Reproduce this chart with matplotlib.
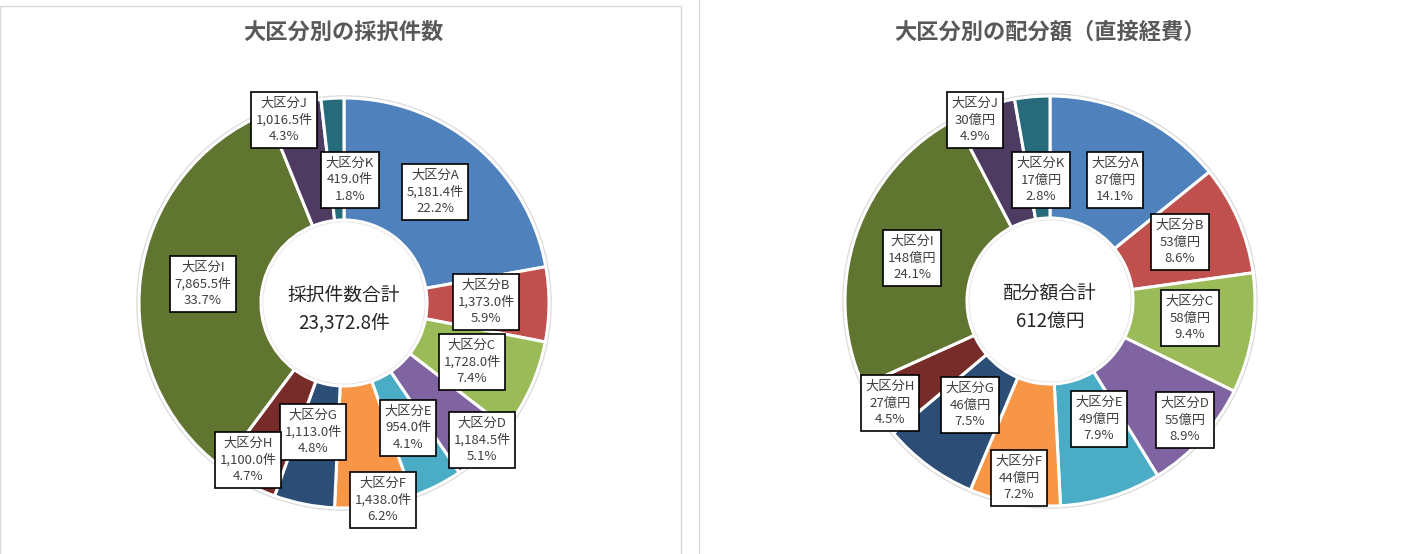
import matplotlib
matplotlib.use("Agg")
import matplotlib.pyplot as plt
from matplotlib.patches import Rectangle, Circle
from matplotlib.lines import Line2D

plt.rcParams['font.family'] = ['Noto Sans CJK JP', 'DejaVu Sans']

# data
categories = ['大区分A', '大区分B', '大区分C', '大区分D', '大区分E', '大区分F',
              '大区分G', '大区分H', '大区分I', '大区分J', '大区分K']
counts = [5181.4, 1373.0, 1728.0, 1184.5, 954.0, 1438.0, 1113.0, 1100.0, 7865.5, 1016.5, 419.0]
count_pcts = [22.2, 5.9, 7.4, 5.1, 4.1, 6.2, 4.8, 4.7, 33.7, 4.3, 1.8]
amounts = [87, 53, 58, 55, 49, 44, 46, 27, 148, 30, 17]
amount_pcts = [14.1, 8.6, 9.4, 8.9, 7.9, 7.2, 7.5, 4.5, 24.1, 4.9, 2.8]

colors = ['#4F81BD', '#C0504D', '#9BBB59', '#8064A2', '#4BACC6', '#F79646',
          '#2C4D75', '#772C2A', '#5F7530', '#4D3B62', '#276A7C']

# label box positions in pixels (x, y from top)
count_label_pos = [(435, 192), (486, 302), (472, 362), (482, 440), (408, 428), (383, 500),
                   (313, 432), (248, 460), (203, 284), (284, 120), (350, 180)]
amount_label_pos = [(1115, 180), (1180, 242), (1190, 318), (1185, 420), (1099, 419), (1019, 478),
                    (970, 405), (890, 403), (912, 258), (975, 120), (1041, 180)]

W, H = 1405, 554
fig = plt.figure(figsize=(W / 100, H / 100), dpi=100)
ax = fig.add_axes([0, 0, 1, 1])

# panel borders
ax.add_patch(Rectangle((0, -5), 681, H - 6 + 5, facecolor='none', edgecolor='#D9D9D9', lw=1))
ax.add_line(Line2D([699, 699], [0, H], color='#D9D9D9', lw=1))


def drawDonut(values, pcts, unit, fmt, label_pos, cx, cy, title, center_title, center_value, title_x):
    radius = 205
    # soft halo around the ring
    ax.add_patch(Circle((cx, H - cy), radius + 1, facecolor='none', edgecolor='#DADADA', lw=2.5))
    ax.add_patch(Circle((cx, H - cy), radius * 0.405 - 1, facecolor='none', edgecolor='#E4E4E4', lw=2))
    ax.pie(values, colors=colors, startangle=90, counterclock=False,
           center=(cx, H - cy), radius=radius,
           wedgeprops=dict(width=radius * 0.595, edgecolor='white', linewidth=2.2))
    for name, v, p, (lx, ly) in zip(categories, values, pcts, label_pos):
        txt = name + '\n' + fmt.format(v) + unit + '\n' + '{:.1f}%'.format(p)
        ax.text(lx, H - ly, txt, ha='center', va='center', fontsize=9.5, color='#404040',
                linespacing=1.35,
                bbox=dict(boxstyle='square,pad=0.35', facecolor='white', edgecolor='black', lw=1.2))
    ax.text(cx, H - cy - 6, center_title + '\n' + center_value, ha='center', va='center',
            fontsize=13.5, color='#262626', linespacing=1.45)
    ax.text(title_x, H - 32, title, ha='center', va='center', fontsize=16,
            fontweight='bold', color='#595959')


drawDonut(counts, count_pcts, '件', '{:,.1f}', count_label_pos, 344, 303,
          '大区分別の採択件数', '採択件数合計', '{:,.1f}件'.format(23372.8), 343)
drawDonut(amounts, amount_pcts, '億円', '{:d}', amount_label_pos, 1050, 301,
          '大区分別の配分額（直接経費）', '配分額合計', '612億円', 1050)

ax.set_xlim(0, W)
ax.set_ylim(0, H)
ax.set_aspect('equal')
ax.axis('off')

plt.savefig('out.png', dpi=100)
